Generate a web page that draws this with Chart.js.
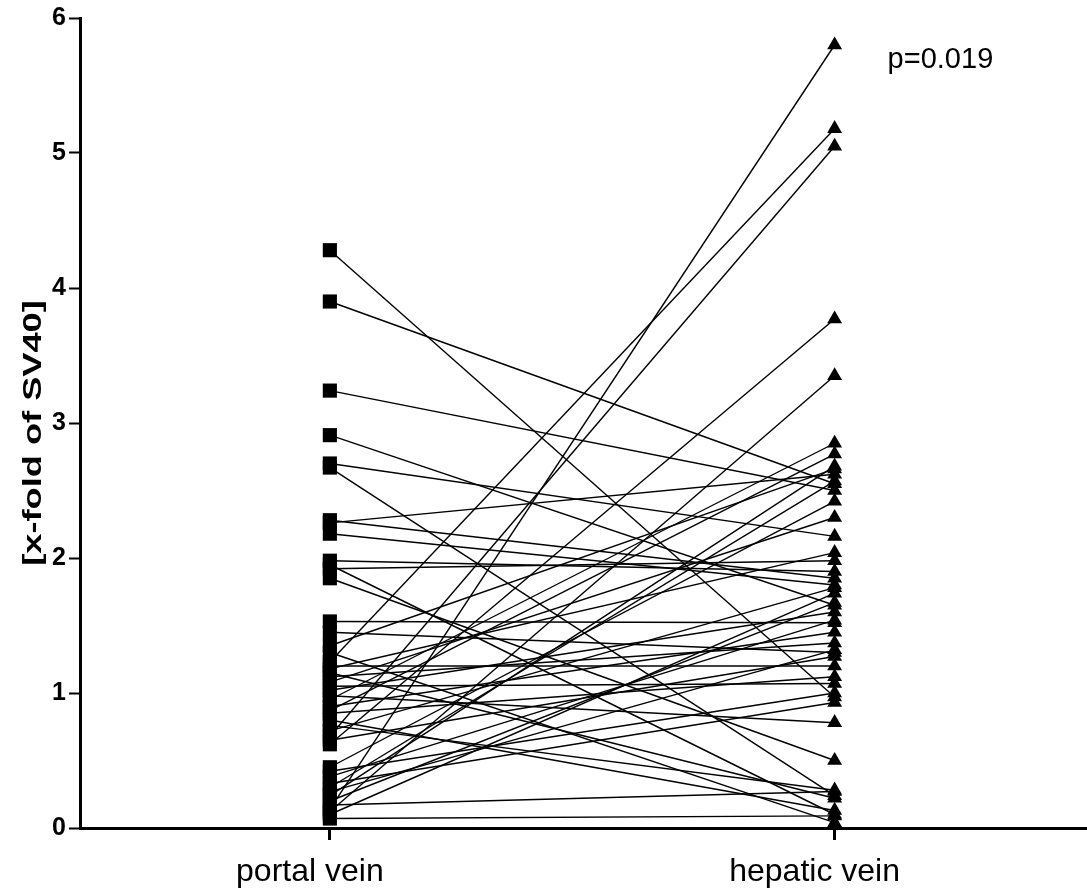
<!DOCTYPE html>
<html>
<head>
<meta charset="utf-8">
<script src="https://cdn.jsdelivr.net/npm/chart.js@4"></script>
<style>
  html, body { margin: 0; padding: 0; background: #fff; overflow: hidden; }
  canvas { display: block; }
</style>
</head>
<body>
<canvas id="myChart" width="1087" height="893"></canvas>
<script>
const categories = ['portal vein', 'hepatic vein'];
const yTicks = [0, 1, 2, 3, 4, 5, 6];
const yTitle = '[x-fold of SV40]';
const pValueText = 'p=0.019';

// paired values, one entry per patient
const portalVein = [
  4.28, 3.90, 3.24, 2.91, 2.70, 2.67, 2.28, 2.26, 2.18, 1.98,
  1.95, 1.92, 1.85, 1.53, 1.45, 1.35, 1.30, 1.23, 1.20, 1.18,
  1.15, 1.12, 1.08, 1.05, 1.02, 0.98, 0.95, 0.90, 0.87, 0.85,
  0.80, 0.76, 0.72, 0.68, 0.65, 0.62, 0.45, 0.42, 0.38, 0.33,
  0.30, 0.27, 0.24, 0.20, 0.17, 0.14, 0.12, 0.10, 0.07
];
const hepaticVein = [
  0.97, 2.55, 2.50, 1.65, 2.16, 0.24, 1.85, 2.62, 1.80, 1.90,
  0.10, 1.98, 0.50, 1.52, 1.30, 2.66, 0.04, 5.18, 1.20, 2.04,
  0.22, 1.37, 2.30, 1.07, 1.60, 0.78, 2.85, 1.45, 2.77, 1.12,
  0.13, 0.28, 1.78, 5.05, 1.27, 3.77, 2.42, 1.00, 1.54, 0.93,
  2.57, 1.32, 2.68, 1.67, 0.27, 5.80, 3.35, 1.74, 0.09
];

const myChartElement = document.getElementById('myChart');
const fontFamily = '"Liberation Sans", Arial, Helvetica, sans-serif';

let myDatasets = [];
portalVein.forEach((pv, i) => {
  myDatasets.push({
    data: [{ x: 1, y: pv }, { x: 2, y: hepaticVein[i] }],
    showLine: true,
    clip: false,
    borderColor: '#000',
    borderWidth: 1.4,
    backgroundColor: '#000',
    pointStyle: ['rect', 'triangle'],
    pointRadius: [10, 8.6],
    pointBorderWidth: 0,
    pointBackgroundColor: '#000'
  });
});

// p value and the (stretched) y axis title
const textPlugin = {
  id: 'texts',
  afterDatasetsDraw(chart) {
    const ctx = chart.ctx;
    const area = chart.chartArea;
    ctx.save();
    ctx.fillStyle = '#000';
    ctx.font = '29px ' + fontFamily;
    ctx.textBaseline = 'middle';
    ctx.fillText(pValueText, chart.scales.x.getPixelForValue(2.105), chart.scales.y.getPixelForValue(5.69));
    ctx.restore();

    ctx.save();
    ctx.translate(34, (area.top + area.bottom) / 2 + 10);
    ctx.rotate(-Math.PI / 2);
    ctx.scale(1.42, 1);
    ctx.fillStyle = '#000';
    ctx.font = 'bold 25.5px ' + fontFamily;
    ctx.textAlign = 'center';
    ctx.textBaseline = 'middle';
    ctx.fillText(yTitle, 0, 0);
    ctx.restore();
  }
};

let myOptions = {
  responsive: false,
  animation: false,
  layout: { autoPadding: false, padding: { top: 16, right: 0, left: 0, bottom: 0 } },
  plugins: { legend: { display: false }, tooltip: { enabled: false } },
  scales: {
    x: {
      type: 'linear',
      min: 0.505,
      max: 2.5,
      afterBuildTicks: (scale) => { scale.ticks = [{ value: 1 }, { value: 2 }]; },
      afterFit: (scale) => { scale.height = 65; },
      border: { color: '#000', width: 3 },
      grid: { drawOnChartArea: false, drawTicks: true, tickLength: 12, tickWidth: 3, tickColor: '#000' },
      ticks: {
        color: '#000',
        padding: 13,
        labelOffset: -20,
        font: { family: fontFamily, size: 32 },
        callback: (value) => categories[value - 1]
      }
    },
    y: {
      min: 0,
      max: 6,
      afterBuildTicks: (scale) => { scale.ticks = yTicks.map(v => ({ value: v })); },
      afterFit: (scale) => { scale.width = 80; },
      border: { color: '#000', width: 3 },
      grid: { drawOnChartArea: false, drawTicks: true, tickLength: 11, tickWidth: 2, tickColor: '#000' },
      ticks: {
        color: '#000',
        padding: 3,
        font: { family: fontFamily, size: 25, weight: 'bold' }
      }
    }
  }
};

let myChart = new Chart(myChartElement, {
  type: 'scatter',
  data: { datasets: myDatasets },
  options: myOptions,
  plugins: [textPlugin]
});
</script>
</body>
</html>
